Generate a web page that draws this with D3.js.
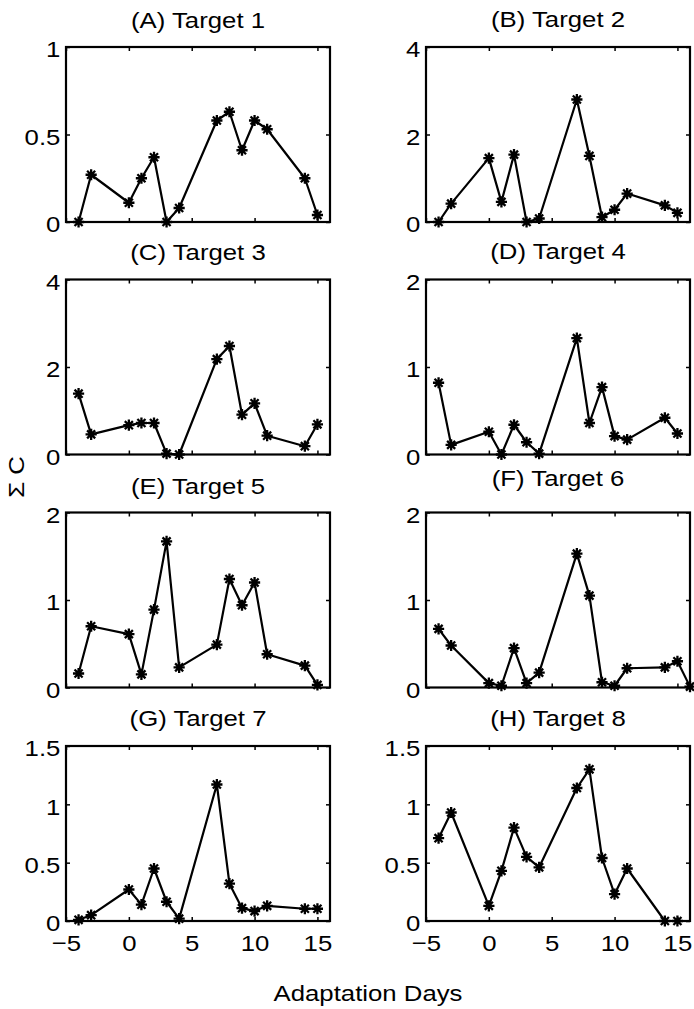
<!DOCTYPE html>
<html>
<head>
<meta charset="utf-8">
<script src="https://cdn.jsdelivr.net/npm/d3@7"></script>
<style>
  body { margin: 0; background: #fff; }
  text { font-family: "Liberation Sans", Arial, sans-serif; fill: #000; }
</style>
</head>
<body>
<div id="chart"></div>
<script>
// sampling days (panel F has one extra sample on day 16)
var days  = [-4, -3, 0, 1, 2, 3, 4, 7, 8, 9, 10, 11, 14, 15];
var daysF = [-4, -3, 0, 1, 2, 3, 4, 7, 8, 9, 10, 11, 14, 15, 16];

// sum C per target
var target1 = [0.00, 0.27, 0.11, 0.25, 0.37, 0.00, 0.08, 0.58, 0.63, 0.41, 0.58, 0.53, 0.25, 0.04];
var target2 = [0.00, 0.42, 1.46, 0.46, 1.54, 0.00, 0.08, 2.80, 1.51, 0.11, 0.28, 0.65, 0.38, 0.21];
var target3 = [1.39, 0.46, 0.67, 0.72, 0.72, 0.02, 0.00, 2.18, 2.48, 0.91, 1.17, 0.43, 0.19, 0.69];
var target4 = [0.82, 0.11, 0.26, 0.00, 0.34, 0.14, 0.01, 1.33, 0.36, 0.77, 0.21, 0.17, 0.42, 0.24];
var target5 = [0.16, 0.70, 0.61, 0.15, 0.89, 1.67, 0.23, 0.49, 1.24, 0.94, 1.20, 0.38, 0.25, 0.03];
var target6 = [0.67, 0.48, 0.05, 0.02, 0.45, 0.05, 0.17, 1.53, 1.05, 0.06, 0.02, 0.22, 0.23, 0.30, 0.01];
var target7 = [0.01, 0.05, 0.27, 0.14, 0.45, 0.165, 0.02, 1.17, 0.32, 0.11, 0.085, 0.13, 0.105, 0.105];
var target8 = [0.71, 0.93, 0.13, 0.43, 0.80, 0.55, 0.46, 1.14, 1.30, 0.54, 0.23, 0.45, 0.00, 0.00];

var titles = ['(A) Target 1', '(B) Target 2', '(C) Target 3', '(D) Target 4',
              '(E) Target 5', '(F) Target 6', '(G) Target 7', '(H) Target 8'];
var yMax   = [1, 4, 4, 2, 2, 2, 1.5, 1.5];
var yTicks = [[0, 0.5, 1], [0, 2, 4], [0, 2, 4], [0, 1, 2],
              [0, 1, 2], [0, 1, 2], [0, 0.5, 1, 1.5], [0, 0.5, 1, 1.5]];
var xTicks = [-5, 0, 5, 10, 15];
var xLabel = 'Adaptation Days';
var yLabel = '\u03A3 C';

var panels = [
  {x: days,  y: target1}, {x: days,  y: target2},
  {x: days,  y: target3}, {x: days,  y: target4},
  {x: days,  y: target5}, {x: daysF, y: target6},
  {x: days,  y: target7}, {x: days,  y: target8}
];

// layout
var outerWidth = 694, outerHeight = 1009;
var colLeft = [66, 426];
var rowTop = [47, 279.5, 512.5, 746];
var pw = 264, ph = 175;
var titleLift = [19, 20, 20, 21, 19, 27, 20, 20];
var stretch = 'scale(1.12,1)';
var fontSize = '23px';

var svg = d3.select('#chart').append('svg')
    .attr('width', outerWidth)
    .attr('height', outerHeight);

svg.append('rect').attr('width', outerWidth).attr('height', outerHeight).attr('fill', '#fff');

// matlab style '*' marker
function asterisk(r) {
  var a = r * 0.72;
  return 'M' + (-r) + ',0H' + r + 'M0,' + (-r) + 'V' + r +
         'M' + (-a) + ',' + (-a) + 'L' + a + ',' + a +
         'M' + (-a) + ',' + a + 'L' + a + ',' + (-a);
}

function styleAxis(sel) {
  sel.attr('font-size', null).attr('font-family', null);
  sel.select('.domain').remove();
  sel.selectAll('.tick line').attr('stroke', '#000').attr('stroke-width', 1.5);
  sel.selectAll('text')
      .style('font-size', fontSize)
      .attr('transform', stretch);
}

panels.forEach(function(p, i) {
  var col = i % 2, row = Math.floor(i / 2);
  var g = svg.append('g')
      .attr('transform', 'translate(' + colLeft[col] + ',' + rowTop[row] + ')');

  var x = d3.scaleLinear().domain([-5, 16]).range([0, pw]);
  var y = d3.scaleLinear().domain([0, yMax[i]]).range([ph, 0]);

  // axes with inward ticks, mirrored on the top and right
  g.append('g')
      .call(d3.axisLeft(y).tickValues(yTicks[i]).tickSize(-4).tickPadding(5)
        .tickFormat(d3.format('~g')))
      .call(styleAxis)
      .selectAll('text').attr('dy', '0.42em');

  g.append('g')
      .attr('transform', 'translate(' + pw + ',0)')
      .call(d3.axisRight(y).tickValues(yTicks[i]).tickSize(-4).tickFormat(''))
      .call(styleAxis);

  g.append('g')
      .attr('transform', 'translate(0,' + ph + ')')
      .call(d3.axisBottom(x).tickValues(xTicks).tickSize(-4).tickPadding(14)
        .tickFormat(row === 3 ? d3.format('d') : ''))
      .call(styleAxis);

  g.append('g')
      .call(d3.axisTop(x).tickValues(xTicks).tickSize(-4).tickFormat(''))
      .call(styleAxis);

  // box
  g.append('rect')
      .attr('width', pw).attr('height', ph)
      .attr('fill', 'none').attr('stroke', '#000').attr('stroke-width', 2.2);

  var pts = p.x.map(function(d, k) { return [d, p.y[k]]; });

  var line = d3.line()
      .x(function(d) { return x(d[0]); })
      .y(function(d) { return y(d[1]); });

  g.append('path')
      .datum(pts)
      .attr('d', line)
      .attr('fill', 'none')
      .attr('stroke', '#000')
      .attr('stroke-width', 2.2)
      .attr('stroke-linejoin', 'round');

  g.selectAll('.marker')
      .data(pts)
      .enter().append('path')
      .attr('class', 'marker')
      .attr('transform', function(d) { return 'translate(' + x(d[0]) + ',' + y(d[1]) + ')'; })
      .attr('d', asterisk(5.6))
      .attr('stroke', '#000')
      .attr('stroke-width', 2.3)
      .attr('fill', 'none');

  g.append('text')
      .attr('transform', 'translate(' + (pw / 2) + ',' + (-titleLift[i]) + ') ' + stretch)
      .attr('text-anchor', 'middle')
      .style('font-size', fontSize)
      .text(titles[i]);
});

svg.append('text')
    .attr('transform', 'translate(368,1001) ' + stretch)
    .attr('text-anchor', 'middle')
    .style('font-size', fontSize)
    .text(xLabel);

svg.append('text')
    .attr('transform', 'translate(24,477) rotate(-90) ' + stretch)
    .attr('text-anchor', 'middle')
    .style('font-size', fontSize)
    .text(yLabel);
</script>
</body>
</html>
